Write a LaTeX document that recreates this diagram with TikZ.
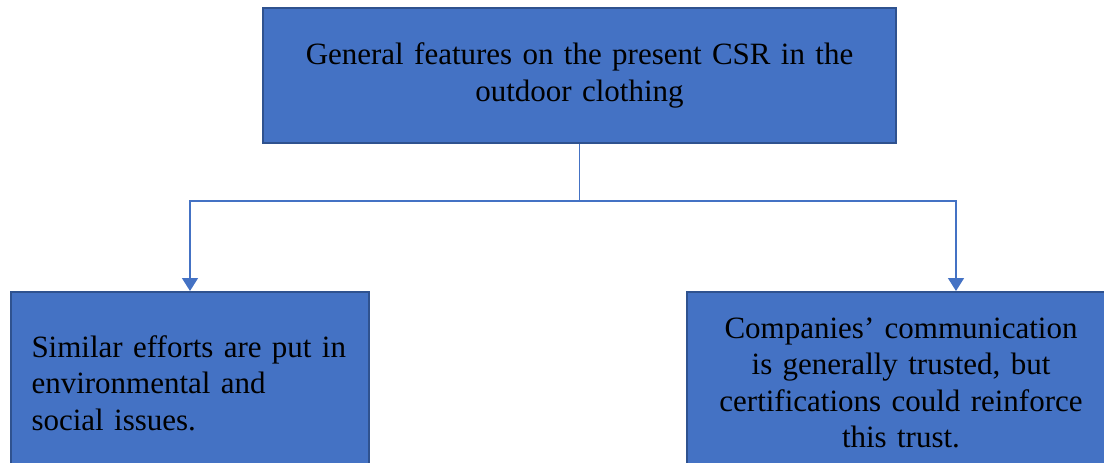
\documentclass[tikz,border=0pt]{standalone}
\usepackage{fontspec}
\setmainfont{Liberation Serif}
\usepackage{xcolor}
\usepackage{tikz}
\usetikzlibrary{arrows.meta,calc}
\definecolor{boxfill}{HTML}{4472C4}
\definecolor{boxedge}{HTML}{2F528F}

\begin{document}
\begin{tikzpicture}[>={Triangle[length=13pt,width=16pt]}, x=1pt, y=-1pt,
    box/.style={draw=boxedge, line width=2pt, fill=boxfill, inner sep=0pt,
      font=\fontsize{31}{36.5}\selectfont},
    link/.style={draw=boxfill, line width=1.5pt}]
  \useasboundingbox (0,0) rectangle (1104,463);
  \node[box, minimum width=633pt, minimum height=135pt, text width=600pt, align=center]
    (top) at (579.5,75.5) {General features on the present CSR in the\\outdoor clothing};
  \node[box, anchor=north west, minimum width=358pt, minimum height=182pt,
    text width=317pt, align=left] (left) at (10,291)
    {Similar efforts are put in\\environmental and\\social issues.};
  \node[box, anchor=north west, minimum width=428pt, minimum height=182pt,
    text width=400pt, align=center] (right) at (686,291)
    {Companies’ communication\\is generally trusted, but\\certifications could reinforce\\this trust.};
  \coordinate (rin) at ([xshift=55pt]right.north);
  \draw[link] (top.south) -- ++(0,57) coordinate (split);
  \draw[link,->] (split) -| (left.north);
  \draw[link,->] (split) -| (rin);
\end{tikzpicture}
\end{document}
